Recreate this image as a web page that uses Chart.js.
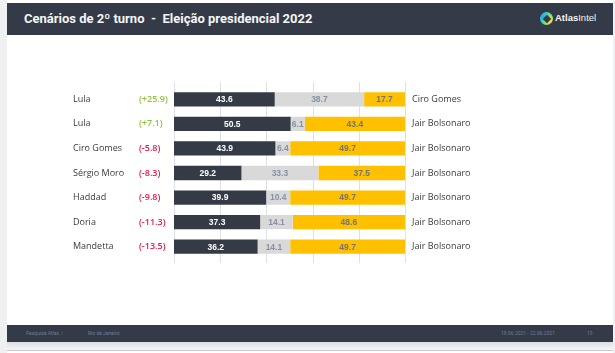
<!DOCTYPE html>
<html>
<head>
<meta charset="utf-8">
<script src="https://cdn.jsdelivr.net/npm/chart.js@4.4.1/dist/chart.umd.min.js"></script>
<style>
  html, body { margin: 0; padding: 0; }
  body { width: 615px; height: 353px; position: relative; overflow: hidden; background: #ffffff; font-family: Roboto, "Liberation Sans", sans-serif; }
  #stripL { position: absolute; left: 0; top: 0; width: 7px; height: 353px; background: #eff0f2; }
  #stripR { position: absolute; left: 613px; top: 0; width: 2px; height: 353px; background: #eff0f2; }
  #header { position: absolute; left: 7px; top: 3px; width: 606px; height: 32px; background: #343a47; }
  #title { position: absolute; left: 17px; top: 8px; color: #f4f5f7; font-weight: bold; font-size: 13px; white-space: pre; }
  #logo { position: absolute; left: 533px; top: 9px; width: 13px; height: 13px; border-radius: 50%;
          background: conic-gradient(#3bd1c2, #9be15d, #f4e04d, #9be15d, #3bd1c2, #2fa8e0, #3bd1c2); }
  #logo::after { content: ""; position: absolute; left: 3.5px; top: 3.5px; width: 6px; height: 6px; background: #343a47; transform: rotate(45deg); }
  #brand { position: absolute; left: 548px; top: 9px; color: #f4f5f7; font-size: 9.5px; font-family: "Liberation Sans", Arial, sans-serif; }
  #footer { position: absolute; left: 7px; top: 325px; width: 606px; height: 17px; background: #343a47; }
  #shadow { position: absolute; left: 7px; top: 342px; width: 606px; height: 8px; background: linear-gradient(#dcdee2, #f6f6f7); }
  #rule { position: absolute; left: 7px; top: 350px; width: 606px; height: 1px; background: #c9cbcf; }
  .ft { position: absolute; top: 5px; color: #6e7c98; font-size: 5px; white-space: pre; }
  #chartBox { position: absolute; left: 0; top: 0; width: 615px; height: 353px; }
</style>
</head>
<body>
<div id="stripL"></div>
<div id="stripR"></div>
<div id="header">
  <div id="title">Cenários de 2º turno  -  Eleição presidencial 2022</div>
  <div id="logo"></div>
  <div id="brand"><b>Atlas</b>Intel</div>
</div>
<div id="footer">
  <div class="ft" style="left:19px">Pesquisa Atlas  |</div>
  <div class="ft" style="left:81px">Rio de Janeiro</div>
  <div class="ft" style="left:494px">18.06.2021 - 22.06.2021</div>
  <div class="ft" style="left:580px">19</div>
</div>
<div id="shadow"></div>
<div id="rule"></div>
<div id="chartBox"><canvas id="scen"></canvas></div>

<script>
var leftNames = ["Lula", "Lula", "Ciro Gomes", "Sérgio Moro", "Haddad", "Doria", "Mandetta"];
var diffs = ["(+25.9)", "(+7.1)", "(-5.8)", "(-8.3)", "(-9.8)", "(-11.3)", "(-13.5)"];
var rightNames = ["Ciro Gomes", "Jair Bolsonaro", "Jair Bolsonaro", "Jair Bolsonaro", "Jair Bolsonaro", "Jair Bolsonaro", "Jair Bolsonaro"];
var firstVals = [43.6, 50.5, 43.9, 29.2, 39.9, 37.3, 36.2];
var otherVals = [38.7, 6.1, 6.4, 33.3, 10.4, 14.1, 14.1];
var secondVals = [17.7, 43.4, 49.7, 37.5, 49.7, 48.6, 49.7];
var gridTicks = [0, 20, 40, 60, 80, 100];

var barText = ["#ffffff", "#8791a3", "#77736a"];

// side labels, value labels and the extended vertical grid
var decor = {
  id: "decor",
  beforeDatasetsDraw: function (chart) {
    var c = chart.ctx, xs = chart.scales.x;
    c.save();
    c.strokeStyle = "#dde1e8";
    c.lineWidth = 1;
    gridTicks.forEach(function (t) {
      var x = Math.round(xs.getPixelForValue(t)) + 0.5;
      c.beginPath();
      c.moveTo(x, 82);
      c.lineTo(x, 263);
      c.stroke();
    });
    c.restore();
  },
  afterDatasetsDraw: function (chart) {
    var c = chart.ctx, ys = chart.scales.y;
    c.save();
    c.textBaseline = "middle";
    c.font = "bold 8.5px 'Liberation Sans', Arial, sans-serif";
    c.textAlign = "center";
    chart.data.datasets.forEach(function (ds, di) {
      var meta = chart.getDatasetMeta(di);
      meta.data.forEach(function (bar, i) {
        c.fillStyle = barText[di];
        c.fillText(ds.data[i].toFixed(1), (bar.x + bar.base) / 2, bar.y + 0.5);
      });
    });
    c.textAlign = "left";
    leftNames.forEach(function (n, i) {
      var y = ys.getPixelForValue(i);
      c.font = "9px 'Open Sans', sans-serif";
      c.fillStyle = "#3a3a3a";
      c.fillText(n, 73, y);
      c.fillText(rightNames[i], 412, y);
      c.font = "600 9px 'Open Sans', sans-serif";
      c.fillStyle = diffs[i].indexOf("+") > 0 ? "#8cc63e" : "#e8154d";
      c.fillText(diffs[i], 139, y);
    });
    c.restore();
  }
};

new Chart("scen", {
  type: "bar",
  data: {
    labels: leftNames.map(function (n, i) { return i; }),
    datasets: [
      { data: firstVals, backgroundColor: "#343a46" },
      { data: otherVals, backgroundColor: "#d9d9d9" },
      { data: secondVals, backgroundColor: "#ffc000" }
    ]
  },
  options: {
    indexAxis: "y",
    responsive: true,
    maintainAspectRatio: false,
    animation: false,
    layout: { padding: { left: 174, right: 210, top: 87, bottom: 94 } },
    datasets: { bar: { categoryPercentage: 1, barPercentage: 0.58, borderWidth: 0 } },
    scales: {
      x: { stacked: true, min: 0, max: 100, display: false },
      y: { stacked: true, display: false }
    },
    plugins: { legend: { display: false }, tooltip: { enabled: false } }
  },
  plugins: [decor]
});
</script>
</body>
</html>
